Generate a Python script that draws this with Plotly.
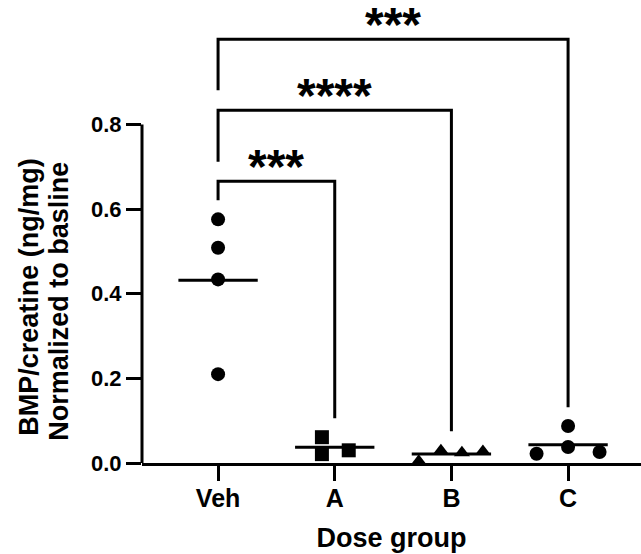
import plotly.graph_objects as go
import numpy as np

FONT = "Liberation Sans, Arial, sans-serif"

categories = ["Veh", "A", "B", "C"]
y_tick_vals = [0.0, 0.2, 0.4, 0.6, 0.8]
y_tick_text = ["0.0", "0.2", "0.4", "0.6", "0.8"]
y_title_lines = ["BMP/creatine (ng/mg)", "Normalized to basline"]
x_title = "Dose group"

veh_vals = [0.576, 0.509, 0.434, 0.210]
veh_jitter = [0.0, 0.0, 0.0, 0.0]
a_vals = [0.061, 0.021, 0.030]
a_jitter = [-0.11, -0.11, 0.12]
b_vals = [0.004, 0.029, 0.024, 0.027]
b_jitter = [-0.28, -0.09, 0.09, 0.27]
c_vals = [0.022, 0.0875, 0.038, 0.026]
c_jitter = [-0.27, 0.0, 0.0, 0.27]

groups = [veh_vals, a_vals, b_vals, c_vals]
jitters = [veh_jitter, a_jitter, b_jitter, c_jitter]
symbols = ["circle", "square", "triangle-up", "circle"]

# significance brackets: (group i, group j)
comp_pairs = [(0, 1), (0, 2), (0, 3)]
comp_top = [0.666, 0.834, 1.002]
comp_left_bottom = [0.621, 0.712, 0.881]
comp_right_bottom = [0.106, 0.075, 0.132]
comp_labels = ["***", "****", "***"]
comp_label_y = [0.718, 0.886, 1.054]

fig = go.Figure()

for i, (vals, jit, sym) in enumerate(zip(groups, jitters, symbols)):
    xs = [i + j for j in jit]
    fig.add_trace(go.Scatter(
        x=xs, y=vals, mode="markers",
        marker=dict(symbol=sym, size=14, color="black", line=dict(width=0)),
        showlegend=False, hoverinfo="y"))
    m = float(np.mean(vals))
    fig.add_trace(go.Scatter(
        x=[i - 0.34, i + 0.34], y=[m, m], mode="lines",
        line=dict(color="black", width=3), showlegend=False, hoverinfo="skip"))

for (a, b), top, lb, rb in zip(comp_pairs, comp_top, comp_left_bottom, comp_right_bottom):
    fig.add_trace(go.Scatter(
        x=[a, a, b, b], y=[lb, top, top, rb], mode="lines",
        line=dict(color="black", width=3), showlegend=False, hoverinfo="skip",
        cliponaxis=False))

annotations = []
for (a, b), lab, ly in zip(comp_pairs, comp_labels, comp_label_y):
    annotations.append(dict(
        x=(a + b) / 2, y=ly, xref="x", yref="y", text=lab, showarrow=False,
        font=dict(family=FONT, size=48, color="black", weight="bold"),
        xanchor="center", yanchor="middle", yshift=-7))

for line_text, px, py in zip(y_title_lines, [-0.2265, -0.1663], [0.393, 0.381]):
    annotations.append(dict(
        x=px, y=py, xref="paper", yref="y", text=line_text,
        textangle=-90, showarrow=False, xanchor="center", yanchor="middle",
        font=dict(family=FONT, size=27, color="black", weight="bold")))

fig.update_layout(
    width=641, height=554,
    margin=dict(l=142, r=0, t=0, b=91),
    paper_bgcolor="white", plot_bgcolor="white",
    font=dict(family=FONT, color="black"),
    annotations=annotations,
    shapes=[dict(type="line", xref="paper", yref="y", x0=0, x1=0, y0=0, y1=0.8,
                 line=dict(color="black", width=3))],
    xaxis=dict(
        range=[-0.652, 3.625], tickvals=[0, 1, 2, 3], ticktext=categories,
        showline=True, linecolor="black", linewidth=3,
        ticks="outside", ticklen=15, tickwidth=3, tickcolor="black",
        ticklabelstandoff=-4,
        tickfont=dict(family=FONT, size=25, color="black", weight="bold"),
        title=dict(text=x_title, standoff=18,
                   font=dict(family=FONT, size=27, color="black", weight="bold")),
        showgrid=False, zeroline=False),
    yaxis=dict(
        range=[0, 1.0945], tickvals=y_tick_vals, ticktext=y_tick_text,
        showline=False, ticks="outside", ticklen=15, tickwidth=3, tickcolor="black",
        tickfont=dict(family=FONT, size=22, color="black", weight="bold"),
        showgrid=False, zeroline=False),
)

fig.write_html("out.html")
